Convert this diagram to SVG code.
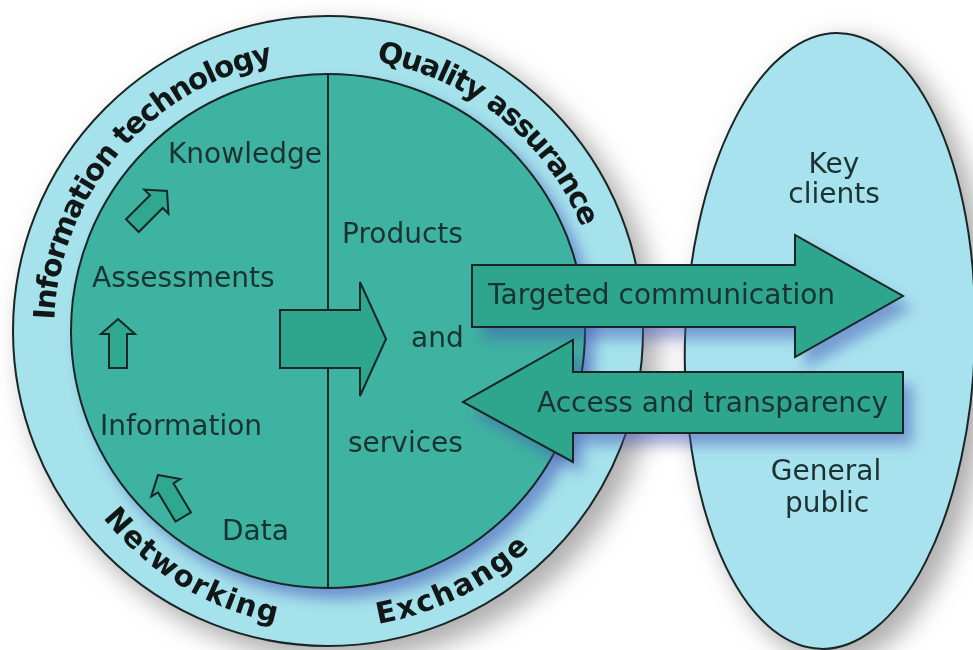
<svg xmlns="http://www.w3.org/2000/svg" width="973" height="650" viewBox="0 0 973 650">
<defs>
<style>
.lbl{font-family:"DejaVu Sans",Verdana,sans-serif;font-size:28px;fill:#1a3330}
.mid{text-anchor:middle}
.ring{font-family:"DejaVu Sans",Verdana,sans-serif;font-size:29.5px;font-weight:bold;fill:#111717}
.ol{stroke:#1a2626;stroke-width:2}
.blk{fill:#2ea68e;stroke:#1a2626;stroke-width:2}
.small{fill:#2ea88f;stroke:#1a2626;stroke-width:2}
.bshadow{fill:#3f55b5;opacity:0.5}
</style>
<filter id="blurBig" x="-20%" y="-20%" width="140%" height="140%"><feGaussianBlur stdDeviation="13"/></filter>
<filter id="blurMid" x="-20%" y="-30%" width="140%" height="160%"><feGaussianBlur stdDeviation="7"/></filter>
<clipPath id="outerClip"><circle cx="328" cy="331" r="315"/></clipPath>
<path id="pInfo" d="M54.2,320 A274,274 0 0 1 289.9,59.7"/>
<path id="pQual" d="M376.1,61.3 A274,274 0 0 1 588.6,246.3"/>
<path id="pNet" d="M103,518 A297,297 0 0 0 302.1,626.9"/>
<path id="pExch" d="M378,623.8 A297,297 0 0 0 555.5,521.9"/>
<polygon id="smallArrow" points="0,0 17,15 9,15 9,49 -9,49 -9,15 -17,15"/>
</defs>

<rect width="973" height="650" fill="#ffffff"/>

<g id="shadows" filter="url(#blurBig)" fill="#8c8c8c" opacity="0.7">
  <circle cx="340" cy="343" r="318"/>
  <ellipse cx="842" cy="352" rx="148" ry="312" transform="rotate(1.8 842 352)"/>
</g>

<g id="audience">
  <ellipse cx="830" cy="341" rx="145" ry="308" transform="rotate(1.8 830 341)" fill="#a9e2ef" class="ol"/>
  <text class="lbl mid" x="834" y="173">Key</text>
  <text class="lbl mid" x="834" y="203">clients</text>
  <text class="lbl mid" x="826" y="480">General</text>
  <text class="lbl mid" x="827" y="512">public</text>
</g>

<g id="outer-ring">
  <circle cx="328" cy="331" r="315" fill="#a6e2ec" class="ol"/>
  <g clip-path="url(#outerClip)">
    <circle cx="337" cy="341" r="258" fill="#3f55b5" opacity="0.55" filter="url(#blurMid)"/>
  </g>
</g>

<g id="inner-circle">
  <circle cx="328" cy="331" r="257" fill="#3fb3a1" class="ol"/>
  <line x1="328" y1="74" x2="328" y2="588" class="ol"/>
</g>

<g id="arrow-shadows" filter="url(#blurMid)">
  <polygon class="bshadow" points="482,277 805,277 805,247 913,308 805,369 805,339 482,339"/>
  <polygon class="bshadow" points="913,384 583,384 583,352 473,414 583,474 583,445 913,445"/>
</g>

<g id="ring-labels">
  <text class="ring"><textPath href="#pInfo" textLength="364" lengthAdjust="spacing">Information technology</textPath></text>
  <text class="ring"><textPath href="#pQual" textLength="276" lengthAdjust="spacing">Quality assurance</textPath></text>
  <text class="ring"><textPath href="#pNet" textLength="206" lengthAdjust="spacing">Networking</textPath></text>
  <text class="ring"><textPath href="#pExch" textLength="172" lengthAdjust="spacing">Exchange</textPath></text>
</g>

<g id="pyramid">
  <g id="knowledge"><text class="lbl" x="168" y="163">Knowledge</text></g>
  <g id="assessments"><text class="lbl" x="92" y="287">Assessments</text></g>
  <g id="information"><text class="lbl" x="100" y="435">Information</text></g>
  <g id="data"><text class="lbl" x="222" y="540">Data</text></g>
  <use href="#smallArrow" class="small" transform="translate(167,191) rotate(45)"/>
  <use href="#smallArrow" class="small" transform="translate(118,319)"/>
  <use href="#smallArrow" class="small" transform="translate(158,475) rotate(-31)"/>
</g>

<g id="products">
  <text class="lbl" x="342" y="243">Products</text>
  <text class="lbl" x="411" y="347">and</text>
  <text class="lbl" x="348" y="452">services</text>
</g>

<g id="connectors">
  <polygon class="blk" points="280,310 360,310 360,282 386,339 360,396 360,368 280,368"/>
  <g id="targeted">
    <polygon class="blk" points="472,265 795,265 795,235 903,296 795,357 795,327 472,327"/>
    <text class="lbl" x="488" y="304">Targeted communication</text>
  </g>
  <g id="access">
    <polygon class="blk" points="903,372 573,372 573,340 463,402 573,462 573,433 903,433"/>
    <text class="lbl" x="537" y="412">Access and transparency</text>
  </g>
</g>
</svg>
